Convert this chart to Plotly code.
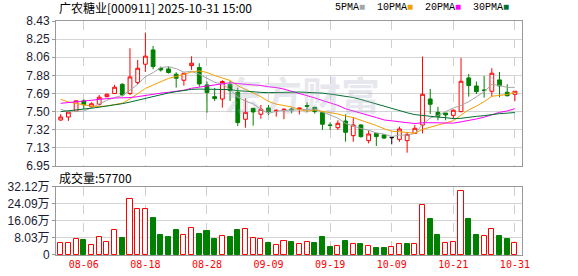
import plotly.graph_objects as go

dates = ["08-01","08-04","08-05","08-06","08-07","08-08","08-11","08-12","08-13","08-14",
         "08-15","08-18","08-19","08-20","08-21","08-22","08-25","08-26","08-27","08-28",
         "08-29","09-01","09-02","09-03","09-04","09-05","09-08","09-09","09-10","09-11",
         "09-12","09-15","09-16","09-17","09-18","09-19","09-22","09-23","09-24","09-25",
         "09-26","09-29","09-30","10-09","10-10","10-13","10-14","10-15","10-16","10-17",
         "10-20","10-21","10-22","10-23","10-24","10-27","10-28","10-29","10-30","10-31"]

opens = [7.42, 7.45, 7.51, 7.615, 7.555, 7.58, 7.658, 7.69, 7.784, 7.69,
         7.801, 7.989, 8.135, 7.948, 7.941, 7.887, 7.825, 7.975, 7.955, 7.778,
         7.658, 7.634, 7.784, 7.703, 7.427, 7.539, 7.478, 7.542, 7.512, 7.523,
         7.532, 7.53, 7.567, 7.549, 7.495, 7.368, 7.341, 7.409, 7.26, 7.369,
         7.209, 7.283, 7.267, 7.24, 7.222, 7.209, 7.283, 7.369, 7.634, 7.498,
         7.491, 7.467, 7.505, 7.849, 7.767, 7.726, 7.713, 7.829, 7.703, 7.682]
highs = [7.48, 7.51, 7.62, 7.63, 7.60, 7.675, 7.69, 7.778, 7.795, 8.152,
         8.033, 8.312, 8.176, 7.965, 7.965, 7.907, 7.90, 8.07, 7.999, 7.812,
         7.747, 7.825, 7.818, 7.75, 7.641, 7.539, 7.573, 7.573, 7.529, 7.539,
         7.546, 7.545, 7.60, 7.549, 7.495, 7.396, 7.416, 7.478, 7.447, 7.376,
         7.311, 7.283, 7.273, 7.24, 7.352, 7.294, 7.369, 8.067, 7.737, 7.553,
         7.491, 7.529, 8.053, 7.89, 7.812, 7.87, 7.948, 7.91, 7.784, 7.713]
lows = [7.41, 7.41, 7.50, 7.53, 7.54, 7.566, 7.65, 7.69, 7.66, 7.675,
        7.784, 7.91, 7.938, 7.914, 7.893, 7.75, 7.77, 7.931, 7.76, 7.495,
        7.614, 7.546, 7.614, 7.358, 7.341, 7.362, 7.433, 7.47, 7.454, 7.427,
        7.488, 7.477, 7.498, 7.485, 7.318, 7.318, 7.318, 7.198, 7.198, 7.239,
        7.181, 7.154, 7.226, 7.171, 7.198, 7.086, 7.28, 7.283, 7.481, 7.416,
        7.416, 7.437, 7.498, 7.658, 7.685, 7.648, 7.658, 7.652, 7.658, 7.614]
closes = [7.45, 7.50, 7.615, 7.575, 7.585, 7.652, 7.682, 7.754, 7.675, 7.859,
          7.948, 8.071, 7.965, 7.931, 7.904, 7.846, 7.897, 7.999, 7.788, 7.699,
          7.638, 7.812, 7.72, 7.393, 7.498, 7.502, 7.529, 7.505, 7.518, 7.528,
          7.525, 7.54, 7.56, 7.505, 7.376, 7.365, 7.386, 7.294, 7.369, 7.25,
          7.277, 7.25, 7.235, 7.24, 7.328, 7.273, 7.335, 7.682, 7.58, 7.457,
          7.471, 7.519, 7.815, 7.771, 7.709, 7.72, 7.897, 7.767, 7.668, 7.713]
volumes = [56000, 56000, 75000, 70000, 47000, 84000, 61000, 117000, 81000, 266000,
           219000, 219000, 173000, 95000, 85000, 117000, 93000, 126000, 99000, 112000,
           76000, 89000, 84000, 117000, 121000, 79000, 75000, 57000, 47000, 65000,
           62000, 53000, 62000, 59000, 87000, 40000, 43000, 67000, 53000, 53000,
           43000, 34000, 34000, 39000, 53000, 53000, 53000, 238000, 171000, 95000,
           56000, 62000, 300000, 171000, 95000, 90000, 123000, 92000, 76000, 57700]
# closes of the 29 sessions before 08-01 (estimated from the moving-average lines)
prior_closes = [7.28, 7.30, 7.33, 7.31, 7.35, 7.36, 7.34, 7.33, 7.37, 7.38,
                7.39, 7.41, 7.42, 7.43, 7.45, 7.55, 7.64, 7.70, 7.74, 7.76,
                7.78, 7.75, 7.72, 7.73, 7.685, 7.63, 7.60, 7.545, 7.42]

ma_periods = [5, 10, 20, 30]
ma_names = ["5PMA", "10PMA", "20PMA", "30PMA"]
ma_colors = ["#a6a6a6", "#f5a000", "#ff00ff", "#006f30"]

tick_labels = ["08-06", "08-18", "08-28", "09-09", "09-19", "10-09", "10-21", "10-31"]
price_ticks = [8.43, 8.245, 8.06, 7.875, 7.69, 7.505, 7.32, 7.135, 6.95]
price_tick_text = ["8.43", "8.25", "8.06", "7.88", "7.69", "7.50", "7.32", "7.13", "6.95"]
vol_ticks = [0, 80300, 160600, 240900, 321200]
vol_tick_text = ["0", "8.03万", "16.06万", "24.09万", "32.12万"]

RED = "#ff0000"
GREEN = "#008000"

n = len(dates)
idx = list(range(n))
full = prior_closes + closes
np_ = len(prior_closes)

fig = go.Figure()

def subset(cond):
    xs = [i for i in idx if cond(i)]
    return (xs, [opens[i] for i in xs], [highs[i] for i in xs],
            [lows[i] for i in xs], [closes[i] for i in xs])

for cond, lc, fc in [
    (lambda i: closes[i] > opens[i], RED, "#ffffff"),
    (lambda i: closes[i] < opens[i], GREEN, GREEN),
    (lambda i: closes[i] == opens[i], "#000000", "#000000"),
]:
    xs, o, h, l, c = subset(cond)
    if not xs:
        continue
    fig.add_trace(go.Candlestick(
        x=xs, open=o, high=h, low=l, close=c,
        increasing=dict(line=dict(color=lc, width=1), fillcolor=fc),
        decreasing=dict(line=dict(color=lc, width=1), fillcolor=fc),
        whiskerwidth=0, showlegend=False, hoverinfo="skip",
        xaxis="x", yaxis="y"))

for p, name, col in zip(ma_periods, ma_names, ma_colors):
    vals = []
    for i in idx:
        j = np_ + i
        window = full[j - p + 1:j + 1]
        vals.append(sum(window) / len(window))
    fig.add_trace(go.Scatter(x=idx, y=vals, mode="lines", name=name,
                             line=dict(color=col, width=1), showlegend=False,
                             hoverinfo="skip", xaxis="x", yaxis="y"))

vol_line = []
vol_fill = []
for i in idx:
    prev = full[np_ + i - 1]
    if closes[i] >= prev:
        vol_line.append(RED); vol_fill.append("#ffffff")
    else:
        vol_line.append(GREEN); vol_fill.append(GREEN)
fig.add_trace(go.Bar(x=idx, y=volumes, width=0.66,
                     marker=dict(color=vol_fill, line=dict(color=vol_line, width=1)),
                     showlegend=False, hoverinfo="skip", xaxis="x2", yaxis="y2"))

tickvals_x = [dates.index(t) for t in tick_labels]
grid_common = dict(showgrid=True, gridcolor="#cfcfcf", gridwidth=1, griddash="dash",
                   tickvals=tickvals_x, ticktext=tick_labels,
                   range=[-0.61, 59.92], showline=True, mirror=True,
                   linecolor="#999999", linewidth=1, zeroline=False, ticks="")

fig.update_layout(
    width=578, height=276,
    margin=dict(l=56, r=56, t=21, b=21, autoexpand=False),
    paper_bgcolor="#ffffff", plot_bgcolor="#ffffff",
    showlegend=False, bargap=0,
    xaxis=dict(domain=[0, 1], anchor="y", showticklabels=False,
               rangeslider=dict(visible=False), **grid_common),
    xaxis2=dict(domain=[0, 1], anchor="y2", showticklabels=True,
                tickfont=dict(family="DejaVu Sans Mono", size=10, color=RED),
                **grid_common),
    yaxis=dict(domain=[0.3803, 1], range=[6.95, 8.43], tickvals=price_ticks,
               ticktext=price_tick_text, showgrid=True, gridcolor="#d4d4d4",
               gridwidth=1, showline=True, mirror=True, linecolor="#999999",
               linewidth=1, zeroline=False, ticks="outside", ticklen=3,
               tickcolor="#999999",
               tickfont=dict(family="Liberation Sans", size=12, color="#1a1a33")),
    yaxis2=dict(domain=[0, 0.2906], range=[0, 321200], tickvals=vol_ticks,
                ticktext=vol_tick_text, showgrid=True, gridcolor="#d4d4d4",
                gridwidth=1, showline=True, mirror=True, linecolor="#999999",
                linewidth=1, zeroline=False, ticks="outside", ticklen=3,
                tickcolor="#999999",
                tickfont=dict(family="Liberation Sans, Noto Sans CJK SC", size=12, color="#1a1a33")),
)

legend_html = "  ".join(
    f"{nm}<span style='color:{c}'>■</span>" for nm, c in zip(ma_names, ma_colors))

fig.add_annotation(text="<b>东方财富</b>", xref="paper", yref="paper",
                   x=(302 - 56) / 466, y=(255 - 93) / 234,
                   xanchor="center", yanchor="middle", showarrow=False,
                   font=dict(family="Noto Sans CJK SC", size=39, color="rgba(170,170,195,0.28)"))
fig.add_annotation(text="广农糖业[000911] 2025-10-31 15:00", xref="paper", yref="paper",
                   x=0.002, y=(255 - 8) / 234, xanchor="left", yanchor="middle",
                   showarrow=False,
                   font=dict(family="Noto Sans CJK SC", size=12, color="#000000"))
fig.add_annotation(text=legend_html, xref="paper", yref="paper",
                   x=(511 - 56) / 466, y=(255 - 8) / 234, xanchor="right", yanchor="middle",
                   showarrow=False,
                   font=dict(family="Liberation Mono", size=10, color="#000000"))
fig.add_annotation(text="成交量:57700", xref="paper", yref="paper",
                   x=0.002, y=(255 - 177) / 234, xanchor="left", yanchor="middle",
                   showarrow=False,
                   font=dict(family="Noto Sans CJK SC", size=12, color="#000000"))

fig.write_html("out.html")
